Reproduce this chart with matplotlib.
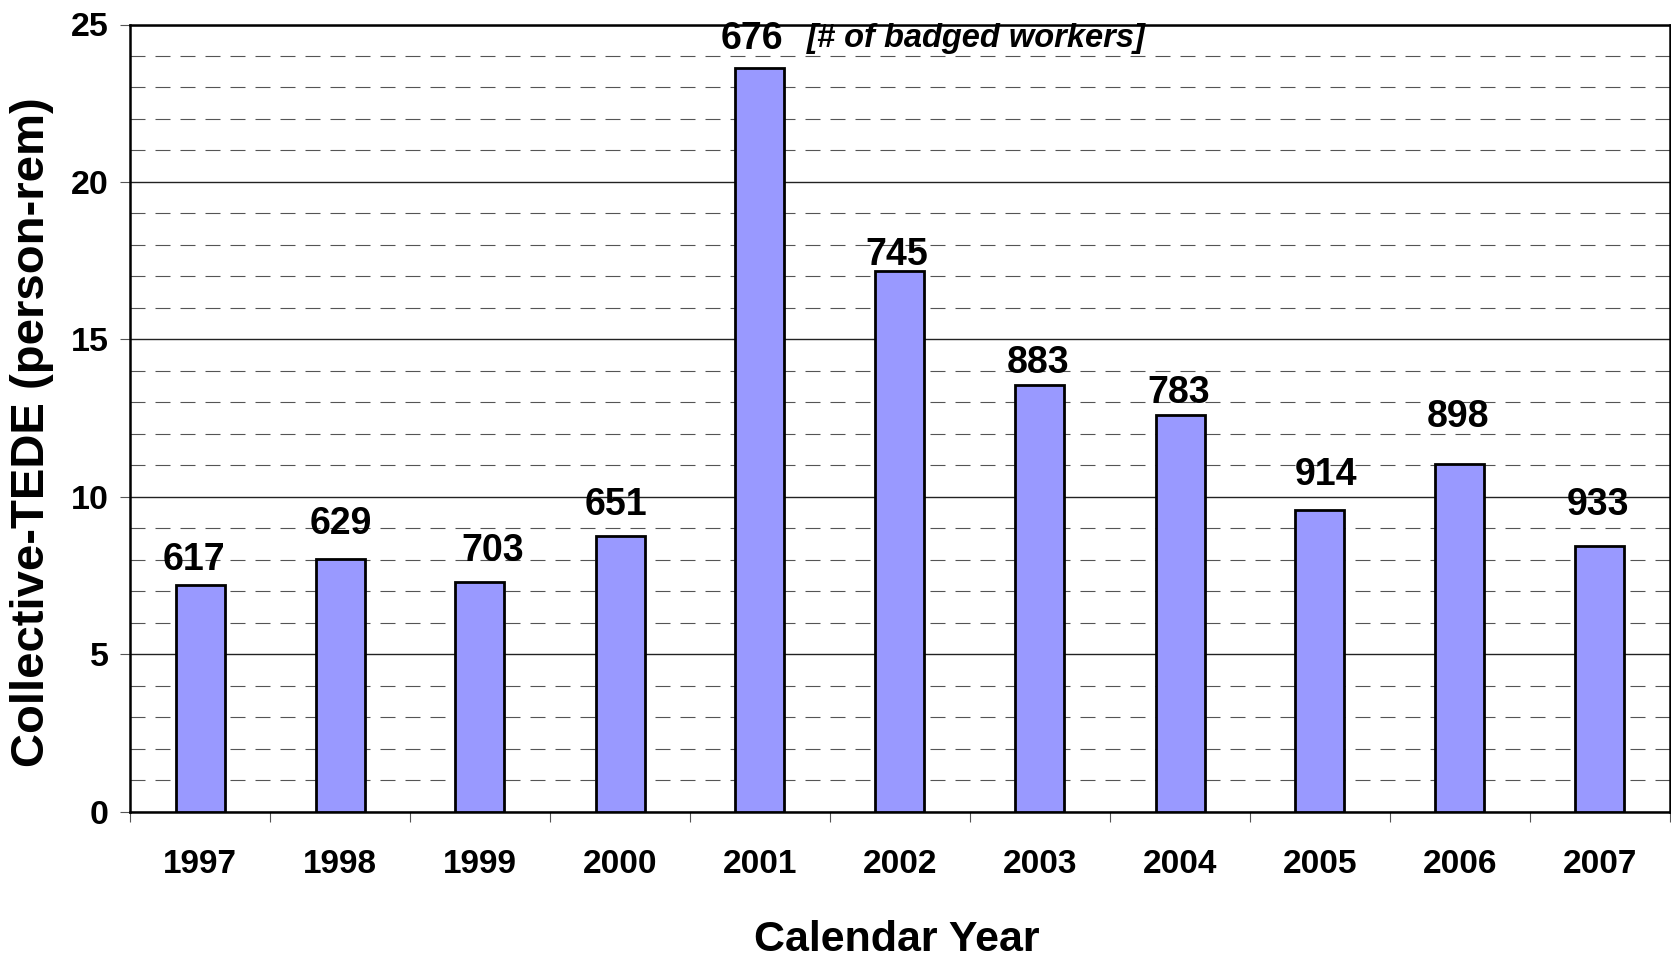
import numpy as np
import matplotlib
matplotlib.use("Agg")
import matplotlib.pyplot as plt
from matplotlib.ticker import MultipleLocator, FixedLocator

# collective TEDE per year and number of badged workers
years = ["1997", "1998", "1999", "2000", "2001", "2002",
         "2003", "2004", "2005", "2006", "2007"]
tede = [7.20, 8.04, 7.30, 8.75, 23.62, 17.17, 13.55, 12.59, 9.58, 11.04, 8.43]
workers = [617, 629, 703, 651, 676, 745, 883, 783, 914, 898, 933]

# hand placed label offsets (points), as in the original
label_dx = [-4.3, 0.7, 9.4, -2.9, -5.8, -2.2, -1.4, -1.1, 4.3, -1.1, -1.4]
label_dy = [20.4, 27.0, 24.6, 24.7, 23.4, 13.7, 18.0, 18.7, 27.6, 36.7, 31.9]

plt.rcParams["lines.scale_dashes"] = False
font = ["Liberation Sans", "DejaVu Sans"]

fig = plt.figure(figsize=(16.71, 9.61), dpi=100)
ax = fig.add_axes([130 / 1671, 1 - 811.7 / 961, 1540 / 1671, 787.2 / 961])

x = np.arange(len(years))
ax.bar(x, tede, width=0.35, color="#9999FF", edgecolor="black", linewidth=2.0, zorder=3)

label_fs = 27
for i in range(len(years)):
    ax.annotate(str(workers[i]), (x[i], tede[i]),
                xytext=(label_dx[i], label_dy[i] - 0.716 * label_fs / 2),
                textcoords="offset points", ha="center", va="baseline",
                fontsize=label_fs, fontweight="bold", family=font, zorder=4)

ax.text(4.335, 24.28, "[# of badged workers]", ha="left", va="baseline",
        fontsize=23.5, fontweight="bold", fontstyle="italic", family=font, zorder=4)

ax.set_xlim(-0.5, len(years) - 0.5)
ax.set_ylim(0, 25)

# y axis: majors every 5, dashed minors every 1
ax.yaxis.set_major_locator(MultipleLocator(5))
ax.yaxis.set_minor_locator(MultipleLocator(1))
ax.grid(which="major", axis="y", color="#222222", linewidth=1.0, linestyle="-")
ax.grid(which="minor", axis="y", color="#555555", linewidth=0.8, dashes=(10.8, 7.2))
ax.set_axisbelow(True)
ax.tick_params(axis="y", which="major", length=7.2, width=0.8, color="#555555",
               direction="out", pad=8, labelsize=24.5)
ax.tick_params(axis="y", which="minor", length=0)

# x axis: labels at category centres, tick marks between categories
ax.set_xticks(x)
ax.set_xticklabels(years)
ax.xaxis.set_minor_locator(FixedLocator(np.arange(-0.5, len(years), 1.0)))
ax.tick_params(axis="x", which="major", length=0, pad=27, labelsize=24)
ax.tick_params(axis="x", which="minor", length=7.2, width=0.8, color="#555555", direction="out")

for lab in ax.get_xticklabels() + ax.get_yticklabels():
    lab.set_fontweight("bold")
    lab.set_family(font)

for side in ["left", "bottom", "top", "right"]:
    ax.spines[side].set_linewidth(1.8)
    ax.spines[side].set_color("black")

ax.set_ylabel("Collective-TEDE (person-rem)", fontsize=34, fontweight="bold",
              family=font, va="center")
ax.yaxis.set_label_coords((32 - 130) / 1540, 1 - (432.5 - 24.5) / 787.2)
ax.set_xlabel("Calendar Year", fontsize=31, fontweight="bold", family=font, va="center")
ax.xaxis.set_label_coords((897 - 130) / 1540, (811.7 - 940) / 787.2)

fig.savefig("out.png", dpi=100)
